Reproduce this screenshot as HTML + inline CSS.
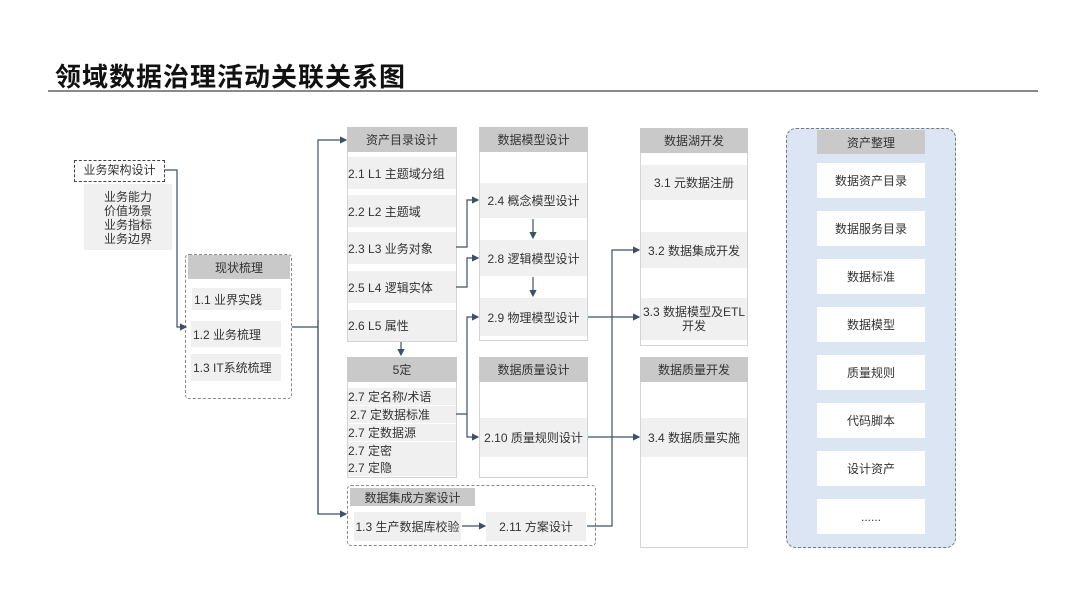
<!DOCTYPE html>
<html><head><meta charset="utf-8"><style>
body{margin:0;width:1080px;height:608px;background:#fff;position:relative;overflow:hidden;font-family:"Liberation Sans","Noto Sans CJK SC",sans-serif;color:#333}
.a{position:absolute;box-sizing:border-box}
.h{background:#c9c9c9;text-align:center;font-size:12px;display:flex;align-items:center;justify-content:center}
.col{border:1px solid #d4d4d4;background:#fff}
.r{background:#f0f0f0;font-size:12px;display:flex;align-items:center}
.c{justify-content:center;text-align:center}
.w{background:#fff;font-size:12px;display:flex;align-items:center;justify-content:center}
</style></head><body>
<div class="a" style="left:55px;top:57px;font-size:26px;font-weight:bold;color:#111;letter-spacing:1px">领域数据治理活动关联关系图</div>
<div class="a" style="left:48px;top:90px;width:990px;height:2px;background:#8a8a8a"></div>

<div class="a" style="left:74px;top:160px;width:91px;height:22px;border:1.5px dashed #444;font-size:12px;text-align:center;line-height:19px">业务架构设计</div>
<div class="a" style="left:84px;top:184px;width:88px;height:66px;background:#f0f0f0;font-size:12px;text-align:center;line-height:14px;padding-top:6px">业务能力<br>价值场景<br>业务指标<br>业务边界</div>

<div class="a" style="left:185px;top:254px;width:107px;height:145px;border:1px dashed #888;border-radius:4px"></div>
<div class="a h" style="left:188px;top:255px;width:102px;height:24px">现状梳理</div>
<div class="a r" style="left:192px;top:288px;width:89px;height:22px;padding-left:2px">1.1 业界实践</div>
<div class="a r" style="left:191px;top:321px;width:90px;height:26px;padding-left:2px">1.2 业务梳理</div>
<div class="a r" style="left:191px;top:354px;width:90px;height:27px;padding-left:2px">1.3 IT系统梳理</div>

<div class="a col" style="left:347px;top:127px;width:110px;height:215px"></div>
<div class="a h" style="left:347px;top:127px;width:110px;height:25px">资产目录设计</div>
<div class="a r" style="left:348px;top:157px;width:108px;height:32px">2.1 L1 主题域分组</div>
<div class="a r" style="left:348px;top:195px;width:108px;height:32px">2.2 L2 主题域</div>
<div class="a r" style="left:348px;top:232px;width:108px;height:32px">2.3 L3 业务对象</div>
<div class="a r" style="left:348px;top:271px;width:108px;height:32px">2.5 L4 逻辑实体</div>
<div class="a r" style="left:348px;top:310px;width:108px;height:31px">2.6 L5 属性</div>

<div class="a col" style="left:347px;top:357px;width:110px;height:121px"></div>
<div class="a h" style="left:347px;top:357px;width:110px;height:25px">5定</div>
<div class="a r" style="left:348px;top:388px;width:108px;height:17px">2.7 定名称/术语</div>
<div class="a r" style="left:348px;top:406px;width:108px;height:17px;padding-left:2px">2.7 定数据标准</div>
<div class="a r" style="left:348px;top:424px;width:108px;height:17px">2.7 定数据源</div>
<div class="a r" style="left:348px;top:442px;width:108px;height:17px">2.7 定密</div>
<div class="a r" style="left:348px;top:459px;width:108px;height:17px">2.7 定隐</div>

<div class="a col" style="left:479px;top:127px;width:109px;height:214px"></div>
<div class="a h" style="left:479px;top:127px;width:109px;height:25px">数据模型设计</div>
<div class="a r c" style="left:480px;top:183px;width:107px;height:35px">2.4 概念模型设计</div>
<div class="a r c" style="left:480px;top:240px;width:107px;height:36px">2.8 逻辑模型设计</div>
<div class="a r c" style="left:480px;top:298px;width:107px;height:38px">2.9 物理模型设计</div>

<div class="a col" style="left:479px;top:357px;width:109px;height:121px"></div>
<div class="a h" style="left:479px;top:357px;width:109px;height:25px">数据质量设计</div>
<div class="a r c" style="left:480px;top:418px;width:107px;height:39px">2.10 质量规则设计</div>

<div class="a col" style="left:640px;top:128px;width:108px;height:218px"></div>
<div class="a h" style="left:640px;top:128px;width:108px;height:25px">数据湖开发</div>
<div class="a r c" style="left:641px;top:165px;width:106px;height:35px">3.1 元数据注册</div>
<div class="a r c" style="left:641px;top:232px;width:106px;height:36px">3.2 数据集成开发</div>
<div class="a r c" style="left:641px;top:298px;width:106px;height:42px;line-height:14px">3.3 数据模型及ETL开发</div>

<div class="a col" style="left:640px;top:357px;width:108px;height:191px"></div>
<div class="a h" style="left:640px;top:357px;width:108px;height:25px">数据质量开发</div>
<div class="a r c" style="left:641px;top:418px;width:106px;height:39px">3.4 数据质量实施</div>

<div class="a" style="left:347px;top:485px;width:249px;height:61px;border:1px dashed #888;border-radius:4px"></div>
<div class="a h" style="left:350px;top:488px;width:125px;height:18px">数据集成方案设计</div>
<div class="a r c" style="left:354px;top:512px;width:107px;height:29px">1.3 生产数据库校验</div>
<div class="a r c" style="left:486px;top:512px;width:100px;height:29px">2.11 方案设计</div>

<div class="a" style="left:786px;top:128px;width:170px;height:420px;background:#dce5f4;border:1px dashed #777;border-radius:10px"></div>
<div class="a h" style="left:817px;top:130px;width:108px;height:24px">资产整理</div>
<div class="a w" style="left:817px;top:163px;width:108px;height:35px">数据资产目录</div>
<div class="a w" style="left:817px;top:211px;width:108px;height:35px">数据服务目录</div>
<div class="a w" style="left:817px;top:259px;width:108px;height:35px">数据标准</div>
<div class="a w" style="left:817px;top:307px;width:108px;height:35px">数据模型</div>
<div class="a w" style="left:817px;top:355px;width:108px;height:35px">质量规则</div>
<div class="a w" style="left:817px;top:403px;width:108px;height:35px">代码脚本</div>
<div class="a w" style="left:817px;top:451px;width:108px;height:35px">设计资产</div>
<div class="a w" style="left:817px;top:499px;width:108px;height:35px">......</div>

<svg class="a" style="left:0;top:0" width="1080" height="608">
<defs><marker id="m" markerWidth="6" markerHeight="6" refX="5" refY="3" orient="auto"><path d="M0,0L6,3L0,6z" fill="#3d5068"/></marker></defs>
<g fill="none" stroke="#3d5068" stroke-width="1.2">
<path d="M165,170H177V327H186" marker-end="url(#m)"/>
<path d="M292,327H318"/>
<path d="M318,514V140H346" marker-end="url(#m)"/>
<path d="M318,320V514H346" marker-end="url(#m)"/>
<path d="M401,342V355" marker-end="url(#m)"/>
<path d="M456,247H467V200H478" marker-end="url(#m)"/>
<path d="M456,287H467V258H478" marker-end="url(#m)"/>
<path d="M456,414H467V317H478" marker-end="url(#m)"/>
<path d="M467,414V437H478" marker-end="url(#m)"/>
<path d="M533,219V238" marker-end="url(#m)"/>
<path d="M533,277V296" marker-end="url(#m)"/>
<path d="M588,317H639" marker-end="url(#m)"/>
<path d="M588,437H639" marker-end="url(#m)"/>
<path d="M587,526H612V250H639" marker-end="url(#m)"/>
<path d="M462,526H485" marker-end="url(#m)"/>
</g></svg>
</body></html>
